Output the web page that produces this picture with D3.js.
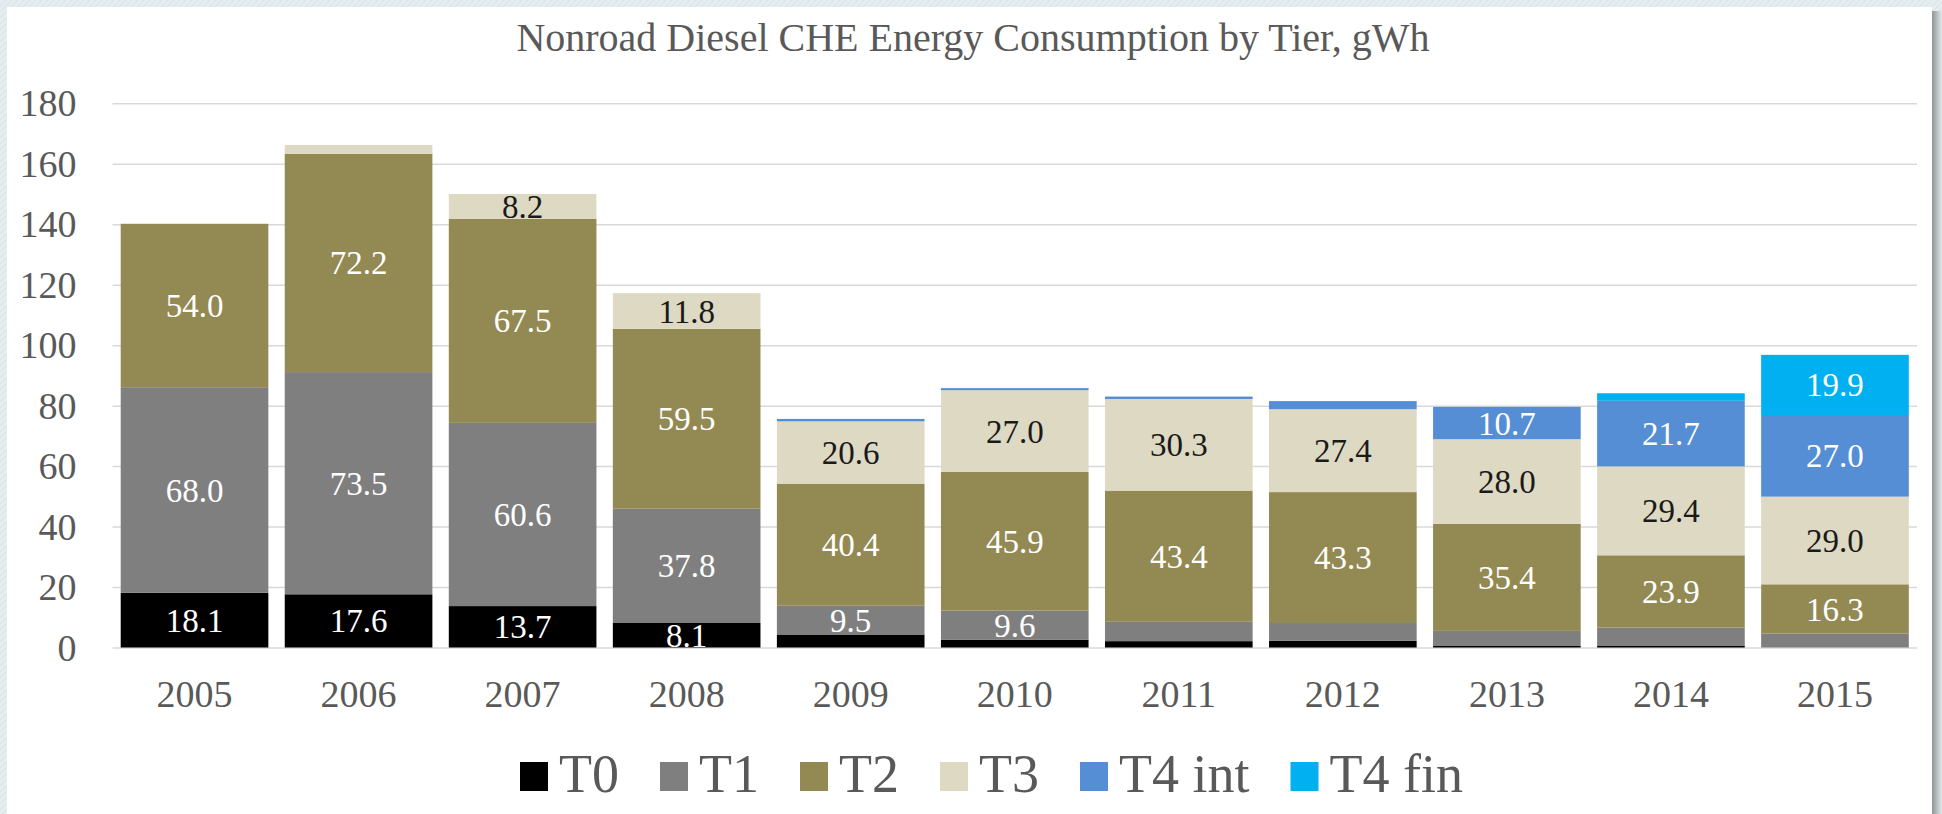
<!DOCTYPE html>
<html>
<head>
<meta charset="utf-8">
<script src="https://cdn.jsdelivr.net/npm/d3@7"></script>
<style>
  html, body { margin: 0; padding: 0; background: #ffffff; }
  svg { display: block; }
  text { font-family: "Liberation Serif", "DejaVu Serif", serif; }
</style>
</head>
<body>
<svg id="chart" width="1942" height="814"></svg>
<script>
// Chart values.
const years = ["2005", "2006", "2007", "2008", "2009", "2010", "2011", "2012", "2013", "2014", "2015"];
const tierKeys = ["T0", "T1", "T2", "T3", "T4 int", "T4 fin"];
const t0 = [18.1, 17.6, 13.7, 8.1, 4.3, 2.6, 2.1, 2.2, 0.5, 0.5, 0.0];
const t1 = [68.0, 73.5, 60.6, 37.8, 9.5, 9.6, 6.4, 5.9, 5.0, 6.1, 4.6];
const t2 = [54.0, 72.2, 67.5, 59.5, 40.4, 45.9, 43.4, 43.3, 35.4, 23.9, 16.3];
const t3 = [0.2, 2.9, 8.2, 11.8, 20.6, 27.0, 30.3, 27.4, 28.0, 29.4, 29.0];
const t4int = [0, 0, 0, 0, 0.8, 0.7, 0.8, 2.7, 10.7, 21.7, 27.0];
const t4fin = [0, 0, 0, 0, 0, 0, 0, 0, 0, 2.5, 19.9];
const yTicks = [0, 20, 40, 60, 80, 100, 120, 140, 160, 180];
const title = "Nonroad Diesel CHE Energy Consumption by Tier, gWh";

const tierColors = {
  "T0": "#000000",
  "T1": "#7f7f7f",
  "T2": "#938953",
  "T3": "#ddd9c3",
  "T4 int": "#558ed5",
  "T4 fin": "#00b0f0",
};
const textGrey = "#595959";

// Build row objects for d3.stack.
const rows = years.map((year, i) => ({
  year,
  "T0": t0[i],
  "T1": t1[i],
  "T2": t2[i],
  "T3": t3[i],
  "T4 int": t4int[i],
  "T4 fin": t4fin[i],
}));

const svg = d3.select("#chart");

// --- Slide background, white card and right shadow. ---
const defs = svg.append("defs");
const pattern = defs
  .append("pattern")
  .attr("id", "slide-bg")
  .attr("width", 6)
  .attr("height", 6)
  .attr("patternUnits", "userSpaceOnUse");
pattern.append("rect").attr("width", 6).attr("height", 6).attr("fill", "#e6edf0");
pattern
  .append("path")
  .attr("d", "M0,6 L6,0")
  .attr("stroke", "#d8e2e6")
  .attr("stroke-width", 1);

const shadow = defs.append("linearGradient").attr("id", "card-shadow").attr("x1", 0).attr("x2", 1);
shadow.append("stop").attr("offset", "0%").attr("stop-color", "#8f9494");
shadow.append("stop").attr("offset", "100%").attr("stop-color", "#e2e9ec");

svg.append("rect").attr("width", 1942).attr("height", 814).attr("fill", "url(#slide-bg)");
svg.append("rect").attr("x", 1932).attr("y", 11).attr("width", 10).attr("height", 803).attr("fill", "url(#card-shadow)");
svg.append("rect").attr("x", 7).attr("y", 7).attr("width", 1925).attr("height", 807).attr("fill", "#ffffff");

// --- Scales. ---
const plotLeft = 112.5;
const plotRight = 1917;
const x = d3
  .scaleBand()
  .domain(years)
  .range([plotLeft, plotRight])
  .paddingInner(0.1)
  .paddingOuter(0.05);
const y = d3.scaleLinear().domain([0, 180]).range([647.5, 103.3]);

// --- Title. ---
svg
  .append("text")
  .attr("x", 973)
  .attr("y", 50.7)
  .attr("text-anchor", "middle")
  .style("font-size", "40px")
  .style("fill", textGrey)
  .text(title);

// --- Y axis with gridlines. ---
const yAxis = svg
  .append("g")
  .attr("transform", `translate(${plotLeft},0)`)
  .call(
    d3
      .axisLeft(y)
      .tickValues(yTicks)
      .tickSize(-(plotRight - plotLeft))
      .tickPadding(36)
      .tickFormat(d3.format("d")),
  );
yAxis.select(".domain").remove();
yAxis.selectAll(".tick line").attr("stroke", "#d9d9d9").attr("stroke-width", 1.5);
yAxis
  .selectAll(".tick text")
  .style("font-size", "38px")
  .style("fill", textGrey)
  .attr("dy", "0.33em");

// --- Stacked bars. ---
const series = d3.stack().keys(tierKeys)(rows);

const layers = svg
  .append("g")
  .attr("class", "bars")
  .selectAll("g.layer")
  .data(series)
  .join("g")
  .attr("class", "layer")
  .attr("fill", (d) => tierColors[d.key]);

layers
  .selectAll("rect")
  .data((d) => d)
  .join("rect")
  .attr("x", (d) => x(d.data.year))
  .attr("width", x.bandwidth())
  .attr("y", (d) => y(d[1]))
  .attr("height", (d) => Math.max(0, y(d[0]) - y(d[1])));

// --- Data labels, shown only for segments big enough to hold them. ---
const labelData = [];
series.forEach((layer) => {
  layer.forEach((d) => {
    const value = d[1] - d[0];
    if (value >= 7) labelData.push({ key: layer.key, year: d.data.year, mid: (d[0] + d[1]) / 2, value });
  });
});

svg
  .append("g")
  .attr("class", "data-labels")
  .selectAll("text")
  .data(labelData)
  .join("text")
  .attr("x", (d) => x(d.year) + x.bandwidth() / 2)
  .attr("y", (d) => y(d.mid))
  .attr("dy", "0.35em")
  .attr("text-anchor", "middle")
  .style("font-size", "33px")
  .style("fill", (d) => (d.key === "T3" ? "#1a1a1a" : "#ffffff"))
  .text((d) => d3.format(".1f")(d.value));

// --- X axis labels. ---
const xAxis = svg
  .append("g")
  .attr("transform", `translate(0,${y(0)})`)
  .call(d3.axisBottom(x).tickSize(0));
xAxis.select(".domain").remove();
xAxis
  .selectAll(".tick text")
  .attr("y", 59)
  .attr("dy", 0)
  .style("font-size", "38px")
  .style("fill", textGrey);

// --- Legend, laid out left to right. ---
const legend = svg.append("g").attr("class", "legend");
let legendX = 520;
tierKeys.forEach((key) => {
  legend
    .append("rect")
    .attr("x", legendX)
    .attr("y", 762)
    .attr("width", 28)
    .attr("height", 29)
    .attr("fill", tierColors[key]);
  const label = legend
    .append("text")
    .attr("x", legendX + 39)
    .attr("y", 791.5)
    .style("font-size", "54px")
    .style("fill", textGrey)
    .text(key);
  legendX += 39 + label.node().getComputedTextLength() + 41;
});
</script>
</body>
</html>
